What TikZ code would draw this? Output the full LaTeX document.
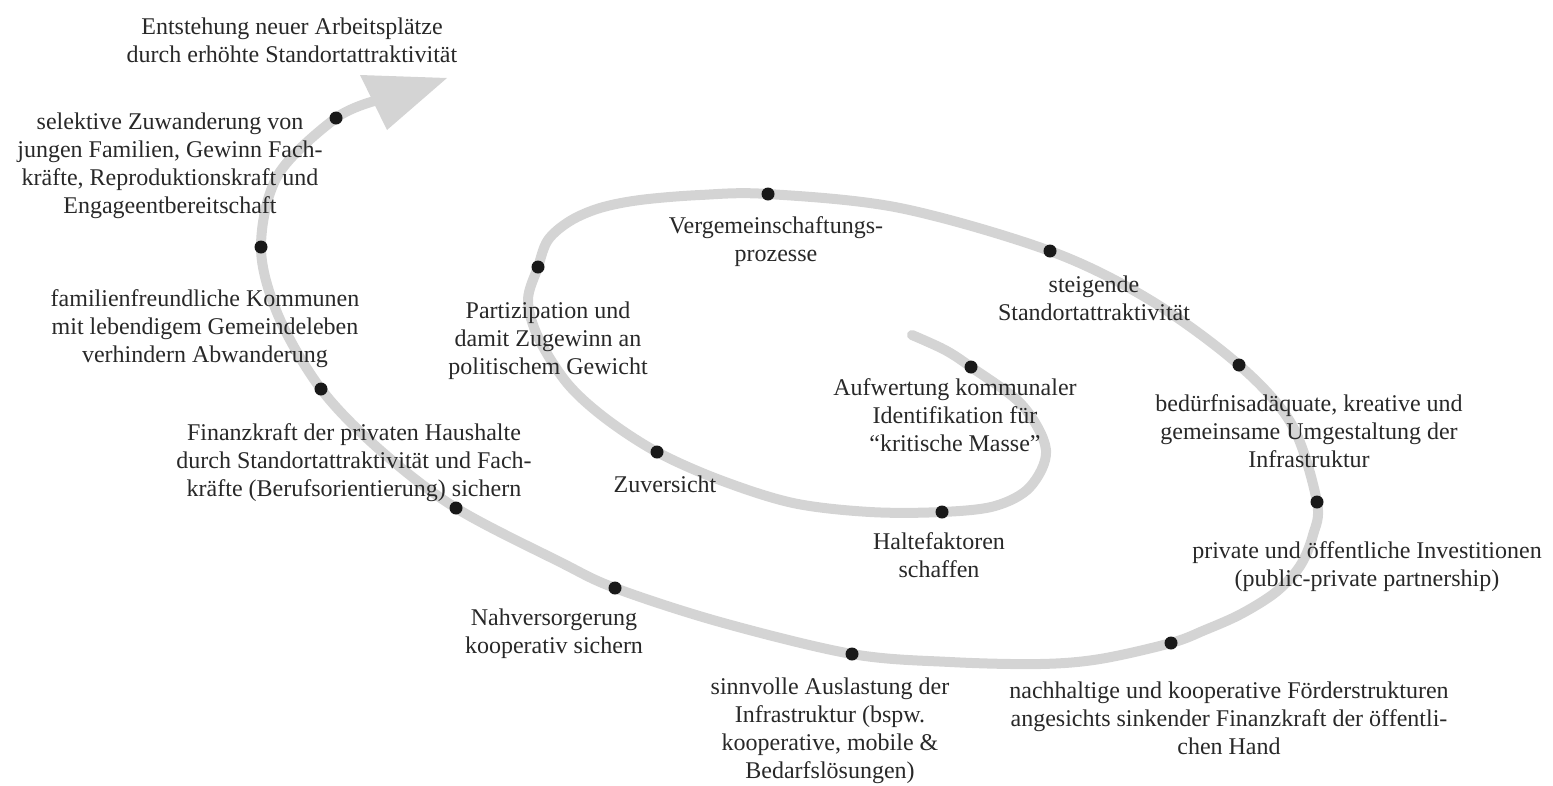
\documentclass[tikz,border=0pt]{standalone}
\usepackage{fontspec}
\setmainfont{Liberation Serif}
\definecolor{spiralgray}{RGB}{212,212,212}
\definecolor{txtgray}{RGB}{40,40,40}
\definecolor{dotblack}{RGB}{25,25,25}
\tikzset{
  spiralline/.style={draw=spiralgray, line width=10pt, line cap=round, line join=round},
  spdot/.style={fill=dotblack},
  lbl/.style={align=center, font=\fontsize{24}{28}\selectfont, text=txtgray, inner sep=0pt},
}
\begin{document}
\begin{tikzpicture}[x=1pt,y=-1pt]
\useasboundingbox (0,0) rectangle (1553,785);
% dots on the spiral
\coordinate (dA) at (971,367);
\coordinate (dB) at (942,512);
\coordinate (dC) at (657,452);
\coordinate (dD) at (538,267);
\coordinate (dE) at (768,194);
\coordinate (dF) at (1050,251);
\coordinate (dG) at (1239,365);
\coordinate (dH) at (1317,502);
\coordinate (dI) at (1171,643);
\coordinate (dJ) at (852,654);
\coordinate (dK) at (615,588);
\coordinate (dL) at (456,508);
\coordinate (dM) at (321,389);
\coordinate (dN) at (261,247);
\coordinate (dO) at (336,118);
\coordinate (start) at (912,335);
\coordinate (stop) at (378,100);
% arrow head
\coordinate (ahL) at (360,75);
\coordinate (ahT) at (447,78);
\coordinate (ahR) at (387,130);
% spiral
\draw[spiralline] plot[smooth,tension=0.55] coordinates {
 (start) (945,350) (dA) (1022,405) (1046,450) (1030,487) (995,506) (dB)
 (870,512) (793,503) (720,480) (dC) (605,418) (567,383) (538,337) (528,300) (dD)
 (548,240) (570,221) (600,208) (640,200) (700,195) (dE) (900,208) (dF) (1150,300) (dG)
 (1292,425) (dH) (1313,535) (1300,566) (1276,592) (1241,614) (1205,630) (dI)
 (1100,659) (1040,664) (950,662)
 (dJ) (720,622) (dK) (560,562) (dL) (380,450) (dM) (278,315) (dN)
 (278,175) (dO) (stop)};
\fill[spiralgray] (ahL) -- (ahT) -- (ahR) -- cycle;
\foreach \d in {dA,dB,dC,dD,dE,dF,dG,dH,dI,dJ,dK,dL,dM,dN,dO}
  \fill[spdot] (\d) circle (6.5pt);
% labels
\node[lbl] (t1) at (292,40) {Entstehung neuer Arbeitsplätze\\durch erhöhte Standortattraktivität};
\node[lbl] (t2) at (170,166) {selektive Zuwanderung von\\jungen Familien, Gewinn Fach-\\kräfte, Reproduktionskraft und\\Engageentbereitschaft};
\node[lbl] (t3) at (205,329) {familienfreundliche Kommunen\\mit lebendigem Gemeindeleben\\verhindern Abwanderung};
\node[lbl] (t4) at (354,463) {Finanzkraft der privaten Haushalte\\durch Standortattraktivität und Fach-\\kräfte (Berufsorientierung) sichern};
\node[lbl] (t5) at (548,341) {Partizipation und\\damit Zugewinn an\\politischem Gewicht};
\node[lbl] (t6) at (776,242) {Vergemeinschaftungs-\\prozesse};
\node[lbl] (t7) at (1094,298) {steigende\\Standortattraktivität};
\node[lbl] (t8) at (955,415) {Aufwertung kommunaler\\Identifikation für\\“kritische Masse”};
\node[lbl] (t9) at (1309,431) {bedürfnisadäquate, kreative und\\gemeinsame Umgestaltung der\\Infrastruktur};
\node[lbl] (t10) at (665,484) {Zuversicht};
\node[lbl] (t11) at (939,555) {Haltefaktoren\\schaffen};
\node[lbl] (t12) at (1367,567) {private und öffentliche Investitionen\\(public-private partnership)};
\node[lbl] (t13) at (554,634) {Nahversorgerung\\kooperativ sichern};
\node[lbl] (t14) at (830,731) {sinnvolle Auslastung der\\Infrastruktur (bspw.\\kooperative, mobile \&\\Bedarfslösungen)};
\node[lbl] (t15) at (1229,718) {nachhaltige und kooperative Förderstrukturen\\angesichts sinkender Finanzkraft der öffentli-\\chen Hand};
\end{tikzpicture}
\end{document}
